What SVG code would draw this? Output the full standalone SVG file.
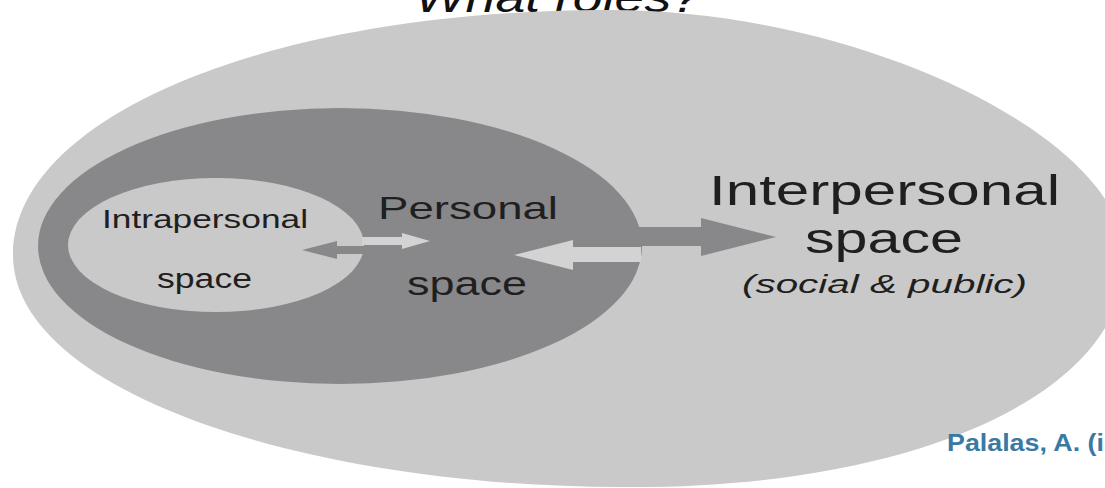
<svg xmlns="http://www.w3.org/2000/svg" width="1105" height="488" viewBox="0 0 1105 488">
  <style>
    .lbl { font-family: "Liberation Sans", Arial, sans-serif; fill: #1f1f1f; }
    .light { fill: #c9c9c9; }
    .dark { fill: #888789; }
    .arrow-light { fill: #d3d3d3; }
    .arrow-dark { fill: #888789; }
  </style>
  <rect x="0" y="0" width="1105" height="488" fill="#ffffff"/>
  <text x="415" y="12" font-family="'Liberation Sans', Arial, sans-serif" font-style="italic" font-size="42" fill="#111111" textLength="286" lengthAdjust="spacingAndGlyphs">What roles?</text>

  <g id="interpersonal">
    <path class="light" d="M 13,255 C 13,120 260,12 600,10 C 850,6 1125,135 1125,258 C 1125,400 900,490 620,487 C 300,486 13,390 13,255 Z"/>
    <text class="lbl" x="709" y="205" font-size="42" textLength="351" lengthAdjust="spacingAndGlyphs">Interpersonal</text>
    <text class="lbl" x="805" y="253" font-size="42" textLength="158" lengthAdjust="spacingAndGlyphs">space</text>
    <text class="lbl" x="742" y="293" font-size="25" font-style="italic" textLength="285" lengthAdjust="spacingAndGlyphs" fill="#2a2a2a">(social &amp; public)</text>
  </g>

  <g id="personal">
    <ellipse class="dark" cx="340" cy="246" rx="302" ry="138"/>
    <text class="lbl" x="378" y="219" font-size="32" textLength="180" lengthAdjust="spacingAndGlyphs">Personal</text>
    <text class="lbl" x="407" y="295" font-size="33" textLength="120" lengthAdjust="spacingAndGlyphs">space</text>
  </g>

  <g id="intrapersonal">
    <ellipse class="light" cx="216" cy="245" rx="148" ry="67"/>
    <text class="lbl" x="102" y="228" font-size="26" textLength="206" lengthAdjust="spacingAndGlyphs">Intrapersonal</text>
    <text class="lbl" x="157" y="288" font-size="27" textLength="95" lengthAdjust="spacingAndGlyphs">space</text>
  </g>

  <g id="connectors">
    <polygon class="arrow-dark" points="302,250 337,241 337,246 400,246 400,254 337,254 337,259"/>
    <polygon class="arrow-light" points="362,237 402,237 402,233 430,241 402,249 402,245 362,245"/>
    <polygon class="arrow-dark" points="600,227 701,227 701,218 776,237 701,256 701,246 600,246"/>
    <polygon class="arrow-light" points="514,255 573,240 573,247 641,247 641,262 573,262 573,270"/>
  </g>

  <text x="947" y="451" font-family="'Liberation Sans', Arial, sans-serif" font-weight="bold" font-size="23" fill="#3a7aa2" textLength="157" lengthAdjust="spacingAndGlyphs">Palalas, A. (i</text>
</svg>
